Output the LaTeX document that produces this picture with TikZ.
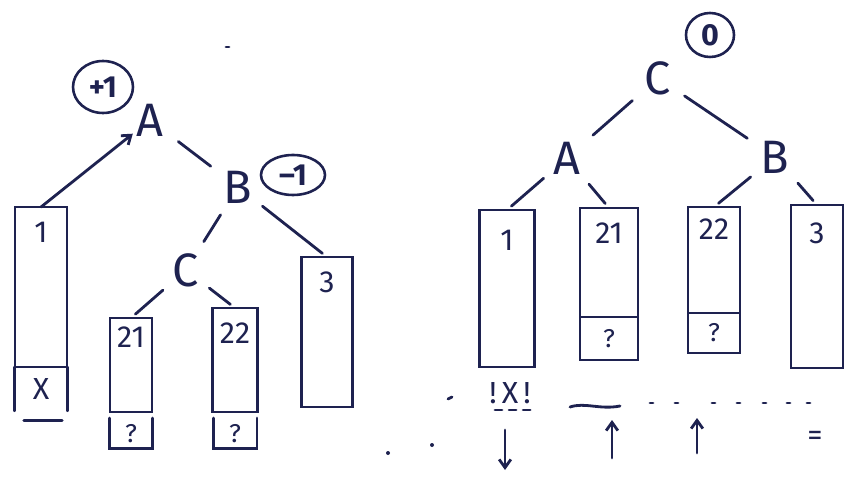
\documentclass[tikz,border=0pt]{standalone}
\usepackage{fontspec}
\setsansfont{Fira Sans}
\usetikzlibrary{arrows.meta,positioning,calc,shapes.geometric}
\definecolor{ink}{RGB}{30,34,80}

\begin{document}
\begin{tikzpicture}[
  x=0.03cm, y=-0.03cm,
  color=ink,
  font=\sffamily,
  line cap=round,
  >={Straight Barb[length=7pt,width=10pt]},
  key/.style={font=\sffamily\fontsize{40}{40}\selectfont, inner sep=3pt},
  num/.style={font=\sffamily\fontsize{26}{26}\selectfont, inner sep=0pt},
  miss/.style={font=\sffamily\fontsize{22}{22}\selectfont, inner sep=0pt},
  bal/.style={inner sep=0pt, font=\sffamily\bfseries\fontsize{26}{26}\selectfont},
  ring/.style={line width=2.2pt},
  tree/.style={draw, line width=2.4pt, inner sep=0pt, outer sep=0pt, anchor=north},
  link/.style={line width=2.4pt, shorten <=7pt, shorten >=5pt},
  pen/.style={line width=2.4pt}
]
\useasboundingbox (0,0) rectangle (846,484);

\node[key] (lA) at (150,120) {A};
\node[key] (lB) at (238,187) {B};
\node[key] (lC) at (186,270) {C};
\node[bal] (lbalA) at (103,87) {+1};
\node[bal] (lbalB) at (293,175) {--1};
\draw[ring] (lbalA) ellipse [x radius=30, y radius=26];
\draw[ring] (lbalB) ellipse [x radius=32, y radius=20];

\node[key] (rC) at (658,78) {C};
\node[key] (rA) at (567,158) {A};
\node[key] (rB) at (775,157) {B};
\node[bal] (rbalC) at (710,35) {0};
\draw[ring] (rbalC) ellipse [x radius=24, y radius=22];

\foreach \id/\x/\y/\w/\h/\lab/\dy in {
    lt1/41/207/1.56/4.8/1/25, lt21/131/318/1.26/2.82/21/19,
    lt22/235/308/1.35/3.12/22/25, lt3/327/257/1.53/4.5/3/25,
    rt1/507/210/1.65/4.71/1/30, rt21/609/208/1.74/3.27/21/25,
    rt22/714/207/1.56/3.18/22/22, rt3/817/205/1.56/4.89/3/28} {
  \node[tree, minimum width=\w cm, minimum height=\h cm] (\id) at (\x,\y) {};
  \node[num] (\id-lab) at ($(\id.north)+(0,\dy)$) {\lab};
}

\node[num, minimum width=1.56cm, minimum height=1.3cm, anchor=north] (lx1) at (lt1.south) {X};
\draw[pen] (lx1.north west) -- (lx1.south west) (lx1.north east) -- (lx1.south east);
\draw[pen] ($(lx1.south west)+(9,10)$) -- ($(lx1.south east)+(-5,10)$);

\foreach \id in {lt21,lt22} {
  \node[miss, minimum width=1.3cm, minimum height=0.9cm, anchor=north] (\id-q) at ($(\id.south)+(0,6)$) {?};
  \draw[pen] (\id-q.north west) -- (\id-q.south west) -- (\id-q.south east) -- (\id-q.north east);
}

\node[tree, miss, minimum width=1.74cm, minimum height=1.29cm] (rt21-q) at (rt21.south) {?};
\node[tree, miss, minimum width=1.56cm, minimum height=1.2cm] (rt22-q) at (rt22.south) {?};

\draw[pen, ->] (lt1.north) -- (lA);
\draw[link, shorten <=12pt, shorten >=10pt] (lA) -- (lB);
\draw[link, shorten <=8pt, shorten >=8pt] (lB) -- (lC);
\draw[link] (lB) -- (lt3.north);
\draw[link] (lC) -- (lt21.north);
\draw[link] (lC) -- (lt22.north);

\draw[link, shorten <=10pt, shorten >=10pt] (rC) -- (rA);
\draw[link, shorten <=10pt, shorten >=10pt] (rC) -- (rB);
\draw[link] (rA) -- (rt1.north);
\draw[link] (rA) -- (rt21.north);
\draw[link] (rB) -- (rt22.north);
\draw[link] (rB) -- (rt3.north);

\node[num] (rx1) at (510,393) {!\,X\,!};
\draw[pen, dash pattern=on 6pt off 6pt] (495,410) -- (532,410);
\draw[pen] (570,407) .. controls (585,402) and (600,410) .. (620,406);
\foreach \x in {650,675,712,737,763,787,807}
  \draw[pen] (\x,403) -- ++(3,0);
\draw[pen] (448,399) -- ++(4,-2);
\draw[pen] (226,47) -- ++(3,0);
\fill (432,445) circle (2);
\fill (388,453) circle (2);

\coordinate (dn1) at (505,430);
\coordinate (dn2) at (505,470);
\coordinate (up1) at (612,458);
\coordinate (up2) at (612,420);
\coordinate (up3) at (697,453);
\coordinate (up4) at (697,418);
\draw[pen, ->] (dn1) -- (dn2);
\draw[pen, ->] (up1) -- (up2);
\draw[pen, ->] (up3) -- (up4);
\node[num] (same) at (815,438) {=};

\end{tikzpicture}
\end{document}
